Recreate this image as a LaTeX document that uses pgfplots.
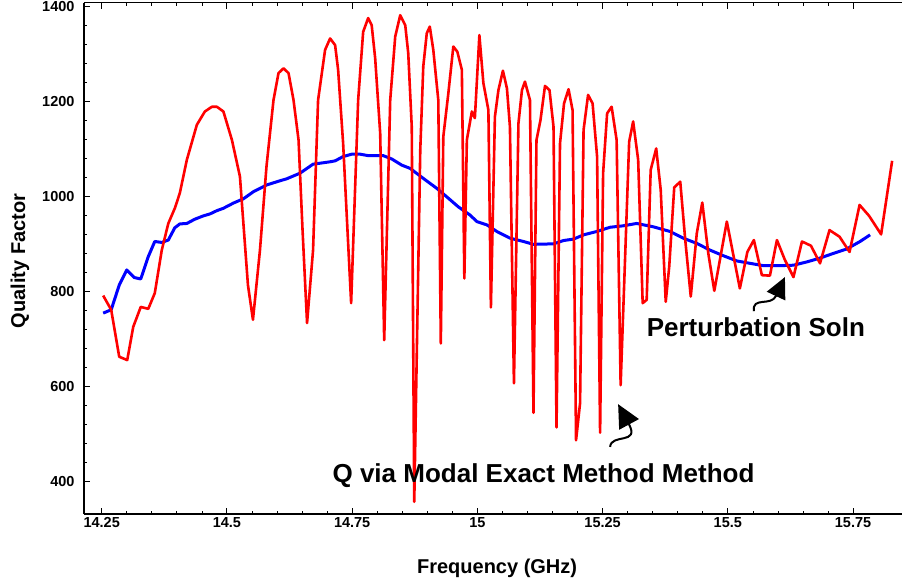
\documentclass[border=0pt]{standalone}
\usepackage{fontspec}
\setmainfont{Liberation Sans}
\usepackage{pgfplots}
\pgfplotsset{compat=1.18}
\usetikzlibrary{arrows.meta}

\begin{document}
\begin{tikzpicture}
\useasboundingbox (-84pt,-72pt) rectangle (818pt,514pt);
\begin{axis}[
    at={(0pt,0pt)}, anchor=south west,
    scale only axis,
    width=818pt, height=511.3pt,
    xmin=14.2147, xmax=15.8477,
    ymin=330.5, ymax=1408.4,
    axis x line*=box, axis y line*=left,
    axis line style={-, line width=1.1pt, black},
    xtick={14.25,14.5,14.75,15,15.25,15.5,15.75},
    xticklabels={14.25,14.5,14.75,15,15.25,15.5,15.75},
    ytick={400,600,800,1000,1200,1400},
    yticklabels={400,600,800,1000,1200,1400},
    minor x tick num=4, minor y tick num=4,
    tick align=inside,
    major tick length=6pt, minor tick length=3pt,
    major tick style={black, line width=1pt},
    minor tick style={black, line width=0.7pt},
    ticklabel style={font=\fontsize{14.5}{16}\selectfont\bfseries},
    yticklabel style={xshift=-6pt},
    xlabel={Frequency (GHz)},
    ylabel={Quality Factor},
    label style={font=\fontsize{20}{24}\selectfont\bfseries},
    xlabel style={at={(axis description cs:0.505,-0.1056)}, anchor=center},
    ylabel style={at={(axis description cs:-0.0782,0.495)}, anchor=center},
]
% perturbation solution (blue)
\addplot[blue, line width=3pt, line join=round] coordinates {
(14.253,754) (14.269,761) (14.285,813) (14.300,845) (14.315,829) (14.328,826)
(14.343,873) (14.356,905) (14.370,903) (14.383,908) (14.396,934) (14.406,942)
(14.420,943) (14.436,952) (14.453,959) (14.466,963) (14.480,970) (14.493,975)
(14.513,986) (14.533,995) (14.553,1010) (14.579,1024) (14.606,1033) (14.619,1037)
(14.646,1049) (14.672,1068) (14.686,1070) (14.706,1073) (14.716,1075) (14.732,1084)
(14.749,1089) (14.766,1089) (14.782,1086) (14.802,1086) (14.812,1086) (14.829,1079)
(14.849,1066) (14.866,1059) (14.892,1038) (14.919,1017) (14.939,999) (14.962,978)
(14.985,961) (14.999,947) (15.019,940) (15.039,926) (15.065,912) (15.092,905)
(15.112,899) (15.152,900) (15.172,907) (15.192,910) (15.212,919) (15.238,926)
(15.265,935) (15.291,938) (15.318,943) (15.351,936) (15.385,926) (15.411,912)
(15.438,901) (15.464,887) (15.491,875) (15.518,864) (15.544,859) (15.571,854)
(15.604,854) (15.631,855) (15.658,862) (15.684,870) (15.711,880) (15.737,889)
(15.764,905) (15.784,919)
};
% modal exact method (red)
\addplot[red, line width=2.6pt, line join=round] coordinates {
(14.253,791) (14.269,761) (14.285,662) (14.301,655) (14.313,725) (14.328,767)
(14.343,763) (14.356,796) (14.370,887) (14.383,943) (14.396,975) (14.406,1007)
(14.420,1077) (14.440,1151) (14.456,1179) (14.470,1189) (14.480,1189) (14.493,1179)
(14.510,1119) (14.526,1042) (14.542,813) (14.552,740) (14.566,887) (14.579,1063)
(14.593,1203) (14.603,1260) (14.613,1270) (14.623,1260) (14.633,1203) (14.643,1119)
(14.651,929) (14.660,733) (14.672,887) (14.682,1203) (14.696,1309) (14.706,1333)
(14.716,1319) (14.722,1267) (14.732,1112) (14.748,775) (14.762,1203) (14.772,1347)
(14.782,1376) (14.789,1361) (14.796,1291) (14.806,1133) (14.814,697) (14.826,1203)
(14.836,1337) (14.846,1382) (14.856,1361) (14.862,1302) (14.869,1147) (14.874,356)
(14.886,1098) (14.892,1274) (14.899,1344) (14.905,1358) (14.912,1309) (14.922,1203)
(14.927,690) (14.932,1126) (14.942,1217) (14.952,1316) (14.960,1305) (14.969,1267)
(14.974,827) (14.979,1119) (14.989,1179) (14.995,1165) (15.004,1340) (15.012,1239)
(15.022,1182) (15.027,766) (15.035,1168) (15.042,1224) (15.051,1265) (15.059,1228)
(15.065,1147) (15.073,606) (15.082,1154) (15.089,1224) (15.095,1242) (15.105,1203)
(15.112,544) (15.118,1119) (15.126,1161) (15.135,1233) (15.144,1224) (15.152,1147)
(15.158,513) (15.165,1112) (15.173,1196) (15.182,1226) (15.190,1182) (15.197,486)
(15.205,564) (15.212,1140) (15.221,1214) (15.230,1196) (15.239,1084) (15.245,502)
(15.251,1049) (15.259,1175) (15.268,1189) (15.278,1119) (15.286,602) (15.303,1115)
(15.311,1158) (15.321,1077) (15.330,775) (15.338,782) (15.346,1056) (15.357,1101)
(15.366,1014) (15.376,778) (15.383,852) (15.393,1019) (15.405,1031) (15.415,908)
(15.426,789) (15.438,922) (15.449,987) (15.461,880) (15.473,801) (15.498,947)
(15.524,806) (15.539,883) (15.552,908) (15.568,834) (15.584,833) (15.598,908)
(15.614,866) (15.631,830) (15.648,905) (15.666,896) (15.684,859) (15.703,929)
(15.723,915) (15.743,883) (15.763,982) (15.782,959) (15.806,920) (15.828,1075)
};
\node[font=\fontsize{26}{30}\selectfont\bfseries, anchor=base] at (axis cs:15.132,396) {Q via Modal Exact Method Method};
\node[font=\fontsize{26}{30}\selectfont\bfseries, anchor=base] at (axis cs:15.556,704) {Perturbation Soln};
\draw[black, line width=2pt, -{Triangle[length=21pt,width=20pt]}]
  (axis cs:15.552,758) .. controls (axis cs:15.548,790) and (axis cs:15.586,767) .. (axis cs:15.614,830);
\draw[black, line width=2pt, -{Triangle[length=23pt,width=22pt]}]
  (axis cs:15.265,472) .. controls (axis cs:15.267,501) and (axis cs:15.325,476) .. (axis cs:15.281,562);
\end{axis}
\end{tikzpicture}
\end{document}
